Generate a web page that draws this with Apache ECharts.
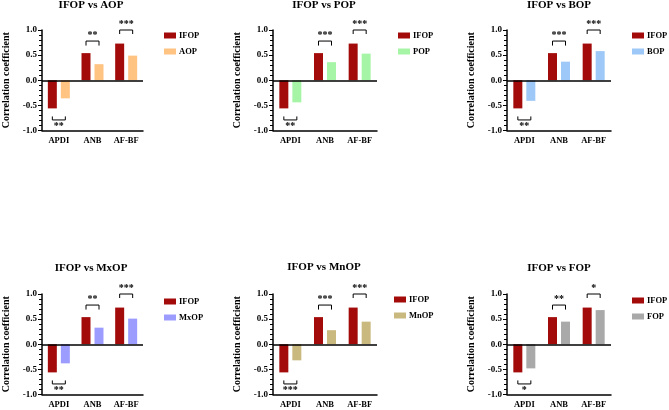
<!DOCTYPE html>
<html><head><meta charset="utf-8">
<script src="https://cdn.jsdelivr.net/npm/echarts@6/dist/echarts.min.js"></script>
<style>html,body{margin:0;padding:0;background:#fff}#c{width:669px;height:410px}</style>
</head><body><div id="c"></div>
<script>
const categories = ['APDI', 'ANB', 'AF-BF'];
const ifop = [-0.56, 0.54, 0.73];
const aop  = [-0.36, 0.32, 0.49];
const pop  = [-0.44, 0.36, 0.53];
const bop  = [-0.41, 0.37, 0.58];
const mxop = [-0.38, 0.33, 0.51];
const mnop = [-0.32, 0.28, 0.45];
const fop  = [-0.48, 0.45, 0.68];
const sigAOP  = ['**', '**', '***'];
const sigPOP  = ['**', '***', '***'];
const sigBOP  = ['**', '***', '***'];
const sigMxOP = ['**', '**', '***'];
const sigMnOP = ['***', '***', '***'];
const sigFOP  = ['*', '**', '*'];
const bracketLevel = [-0.79, 0.78, 1.0];
const bracketTip = [-0.72, 0.69, 0.92];
const yTicks = [-1.0, -0.5, 0.0, 0.5, 1.0];

const panels = [
  {name: 'AOP',  vals: aop,  sig: sigAOP,  color: '#ffc382'},
  {name: 'POP',  vals: pop,  sig: sigPOP,  color: '#a6f5a6'},
  {name: 'BOP',  vals: bop,  sig: sigBOP,  color: '#9ec8f7'},
  {name: 'MxOP', vals: mxop, sig: sigMxOP, color: '#9c9cff'},
  {name: 'MnOP', vals: mnop, sig: sigMnOP, color: '#c9b97f'},
  {name: 'FOP',  vals: fop,  sig: sigFOP,  color: '#a9a9a9'}
];
const IFOP_COLOR = '#a30b0b';
const FONT = '"Liberation Serif", "Times New Roman", serif';
const layout = [
  {left: 39, top: 30, tx: 91, ty: 0, lx: 164, ly: 31},
  {left: 273, top: 30, tx: 324, ty: 0, lx: 398, ly: 31},
  {left: 507, top: 30, tx: 559, ty: 0, lx: 632, ly: 31},
  {left: 39, top: 294, tx: 91, ty: 263, lx: 164, ly: 297},
  {left: 273, top: 294, tx: 324, ty: 262, lx: 394, ly: 295},
  {left: 507, top: 294, tx: 559, ty: 263, lx: 632, ly: 296}
];
const BAR_W = 9, BAR_GAP = 4;

const option = {
  animation: false,
  backgroundColor: '#fff',
  title: [], legend: [], grid: [], xAxis: [], yAxis: [], series: []
};

panels.forEach((p, i) => {
  const L = layout[i];
  option.title.push({
    text: 'IFOP vs ' + p.name, left: L.tx, top: L.ty, textAlign: 'center', padding: 0,
    textStyle: {fontFamily: FONT, fontWeight: 'bold', fontSize: 11, color: '#000'}
  });
  option.legend.push({
    data: ['IFOP', p.name], left: L.lx, top: L.ly, orient: 'vertical', padding: 0,
    itemWidth: 12, itemHeight: 6, itemGap: 7, icon: 'rect',
    selectedMode: false,
    textStyle: {fontFamily: FONT, fontWeight: 'bold', fontSize: 8.5, color: '#000', padding: [0, 0, 0, -2]}
  });
  option.grid.push({left: L.left, top: L.top, width: 104, height: 100.5});
  option.xAxis.push({
    type: 'category', gridIndex: i, data: categories,
    axisLine: {onZero: false, lineStyle: {color: '#000', width: 1.5}},
    axisTick: {alignWithLabel: true, length: 3, lineStyle: {color: '#000'}},
    axisLabel: {fontFamily: FONT, fontWeight: 'bold', fontSize: 8.5, color: '#000', margin: 6}
  });
  option.yAxis.push({
    type: 'value', gridIndex: i, min: yTicks[0], max: yTicks[yTicks.length - 1], interval: 0.5,
    name: 'Correlation coefficient', nameLocation: 'middle', nameGap: 31,
    nameTextStyle: {fontFamily: FONT, fontWeight: 'bold', fontSize: 10, color: '#000'},
    axisLine: {show: true, lineStyle: {color: '#000', width: 1.5}},
    axisTick: {show: true, length: 4, lineStyle: {color: '#000', width: 1}},
    minorTick: {show: true, splitNumber: 5, length: 3, lineStyle: {color: '#000', width: 1}},
    splitLine: {show: false},
    minorSplitLine: {show: false},
    axisLabel: {fontFamily: FONT, fontWeight: 'bold', fontSize: 9, color: '#000', margin: 5,
      formatter: v => v.toFixed(1)}
  });
  option.series.push({
    type: 'bar', name: 'IFOP', xAxisIndex: i, yAxisIndex: i, data: ifop,
    barWidth: BAR_W, barGap: (BAR_GAP / BAR_W * 100) + '%',
    itemStyle: {color: IFOP_COLOR},
    markLine: {symbol: 'none', silent: true, label: {show: false},
      lineStyle: {color: '#000', width: 1.5, type: 'solid'}, data: [{yAxis: 0}]}
  });
  option.series.push({
    type: 'bar', name: p.name, xAxisIndex: i, yAxisIndex: i, data: p.vals,
    barWidth: BAR_W, barGap: (BAR_GAP / BAR_W * 100) + '%',
    itemStyle: {color: p.color}
  });
  const sig = p.sig;
  option.series.push({
    type: 'custom', xAxisIndex: i, yAxisIndex: i, clip: false, silent: true,
    data: categories.map((c, k) => [k, bracketLevel[k], bracketTip[k]]),
    renderItem: (params, api) => {
      const k = api.value(0);
      const c = api.coord([k, api.value(1)]);
      const t = api.coord([k, api.value(2)]);
      const half = (BAR_W + BAR_GAP) / 2;
      const up = api.value(1) > 0;
      return {
        type: 'group',
        children: [
          {type: 'polyline', shape: {points: [[c[0] - half, t[1]], [c[0] - half, c[1]], [c[0] + half, c[1]], [c[0] + half, t[1]]]},
           style: {stroke: '#000', lineWidth: 1, fill: null}},
          {type: 'text', x: c[0], y: up ? c[1] - 1 : c[1] + 1,
           style: {text: sig[params.dataIndex], fontFamily: FONT, fontWeight: 'bold', fontSize: 10,
             fill: '#000', align: 'center', verticalAlign: up ? 'bottom' : 'top'}}
        ]
      };
    }
  });
});

const chart = echarts.init(document.getElementById('c'), null, {renderer: 'canvas'});
chart.setOption(option);
</script>
</body></html>
